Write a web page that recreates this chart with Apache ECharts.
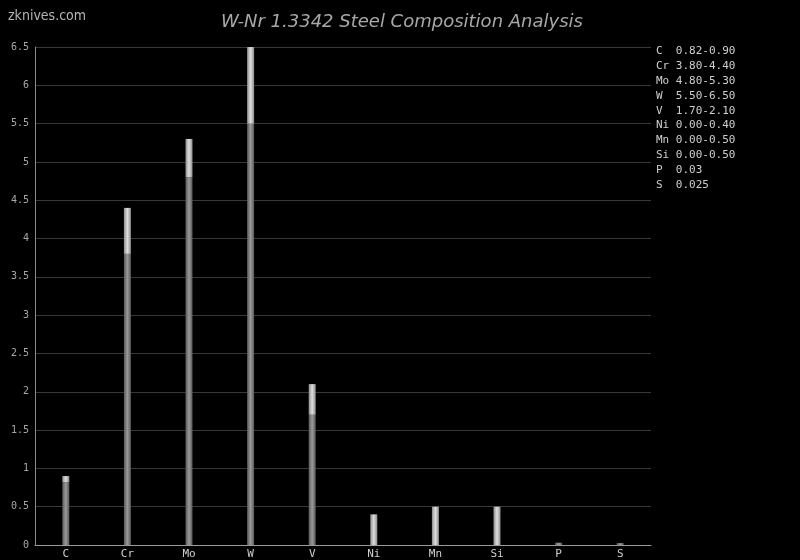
<!DOCTYPE html>
<html><head><meta charset="utf-8">
<script src="https://cdn.jsdelivr.net/npm/echarts@6/dist/echarts.min.js"></script>
<style>html,body{margin:0;padding:0;background:#000;}#c{width:800px;height:560px;}</style>
</head><body><div id="c"></div>
<script>
const categories = ['C','Cr','Mo','W','V','Ni','Mn','Si','P','S'];
const minValues = [0.82,3.80,4.80,5.50,1.70,0,0,0,0.03,0.025];
const rangeValues = [0.08,0.60,0.50,1.00,0.40,0.40,0.50,0.50,0,0];
const legendLabels = ['0.82-0.90','3.80-4.40','4.80-5.30','5.50-6.50','1.70-2.10','0.00-0.40','0.00-0.50','0.00-0.50','0.03','0.025'];
const yTicks = [0,0.5,1,1.5,2,2.5,3,3.5,4,4.5,5,5.5,6,6.5];

const mono = 'DejaVu Sans Mono';
const chart = echarts.init(document.getElementById('c'));
function grad(a,b){
  return new echarts.graphic.LinearGradient(0,0,1,0,[
    {offset:0,color:a},{offset:0.5,color:b},{offset:1,color:a}]);
}
const legendGraphics = categories.map((c,i)=>({
  type:'text', left:656, top:46+i*14.8,
  style:{text:(c+'  ').slice(0,3)+legendLabels[i], fill:'#cfcfcf', font:'11px "'+mono+'"'}
}));
chart.setOption({
  backgroundColor:'#000',
  animation:false,
  title:{text:'W-Nr 1.3342 Steel Composition Analysis', left:397, textAlign:'center', top:8,
    textStyle:{color:'#a8a8a8', fontStyle:'italic', fontWeight:'normal', fontSize:18, fontFamily:'DejaVu Sans'}},
  graphic:[{type:'text', left:8, top:9, style:{text:'zknives.com', fill:'#b4b4b4', font:'14px "DejaVu Sans Condensed", "DejaVu Sans"'}}].concat(legendGraphics),
  grid:{left:35, right:149, top:47, bottom:14},
  xAxis:{type:'category', data:categories,
    axisLine:{lineStyle:{color:'#9a9a9a', width:1}}, axisTick:{show:false},
    axisLabel:{color:'#cfcfcf', fontFamily:mono, fontSize:11, margin:4}},
  yAxis:{type:'value', min:0, max:6.5, interval:0.5,
    axisLine:{show:true, lineStyle:{color:'#8a8a8a'}}, axisTick:{show:false},
    splitLine:{lineStyle:{color:'#383838'}},
    axisLabel:{color:'#a8a8a8', fontFamily:mono, fontSize:10, margin:6,
      formatter:v=>String(yTicks.find(t=>Math.abs(t-v)<1e-9) ?? v)}},
  series:[
    {type:'bar', stack:'a', data:minValues, barWidth:7,
      itemStyle:{color:grad('#585858','#9a9a9a')}},
    {type:'bar', stack:'a', data:rangeValues, barWidth:7,
      itemStyle:{color:grad('#8e8e8e','#dedede')}}
  ]
});
</script></body></html>
